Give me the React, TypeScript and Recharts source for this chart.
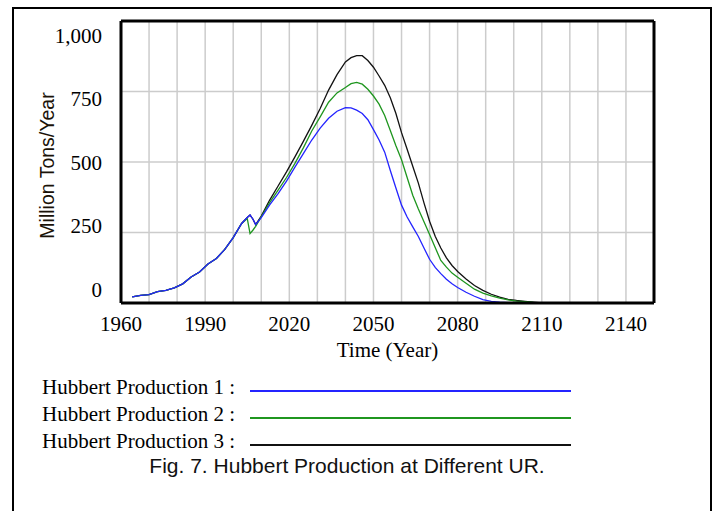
import { LineChart, Line, XAxis, YAxis, CartesianGrid, ReferenceLine } from 'recharts';

const years = [
  1964, 1967, 1970, 1973, 1976, 1979, 1982, 1985, 1988, 1991,
  1994, 1997, 2000, 2003, 2005, 2006, 2007, 2008, 2010, 2013,
  2016, 2019, 2022, 2025, 2028, 2031, 2034, 2037, 2040, 2042,
  2044, 2046, 2048, 2050, 2052, 2054, 2056, 2058, 2060, 2062,
  2064, 2066, 2068, 2070, 2072, 2074, 2076, 2078, 2080, 2083,
  2086, 2089, 2092, 2095, 2098, 2101, 2104, 2107, 2110, 2120,
  2130, 2140, 2150,
];

const hubbert1 = [
  22, 27, 30, 40, 45, 54, 68, 92, 110, 138,
  158, 190, 232, 282, 303, 312, 298, 278, 303, 348,
  388, 432, 482, 530, 578, 620, 655, 680, 693, 692,
  684, 672, 650, 615, 578, 535, 470, 408, 347, 305,
  270, 236, 195, 155, 126, 104, 84, 68, 55, 38,
  24, 12, 6, 3, 1, 0, 0, 0, 0, 0,
  0, 0, 0,
];

const hubbert2 = [
  22, 27, 30, 40, 45, 54, 68, 92, 110, 138,
  158, 190, 232, 282, 300, 246, 258, 272, 306, 356,
  400, 445, 495, 550, 610, 660, 712, 745, 764, 778,
  782, 776, 758, 734, 705, 665, 612, 558, 508, 445,
  382, 333, 288, 243, 197, 151, 127, 106, 91, 70,
  49, 35, 25, 17, 11, 7, 5, 2, 0, 0,
  0, 0, 0,
];

const hubbert3 = [
  22, 27, 30, 40, 45, 54, 68, 92, 110, 138,
  158, 190, 232, 282, 303, 312, 298, 278, 308, 365,
  415, 465, 518, 573, 630, 690, 755, 810, 855, 870,
  877, 877, 860, 836, 805, 772, 728, 672, 604, 545,
  485, 425, 355, 290, 237, 195, 160, 133, 112, 85,
  62, 45, 31, 21, 13, 9, 6, 3, 0, 0,
  0, 0, 0,
];

const gridYears = [
  1960, 1970, 1980, 1990, 2000, 2010, 2020, 2030, 2040, 2050,
  2060, 2070, 2080, 2090, 2100, 2110, 2120, 2130, 2140,
];
const labelYears = [1960, 1990, 2020, 2050, 2080, 2110, 2140];
const yTicks = [0, 250, 500, 750, 1000];

const data = years.map((year, i) => ({
  year,
  hp1: hubbert1[i],
  hp2: hubbert2[i],
  hp3: hubbert3[i],
}));

const series = [
  { key: 'hp1', name: 'Hubbert Production 1', color: '#2424ff' },
  { key: 'hp2', name: 'Hubbert Production 2', color: '#1f961f' },
  { key: 'hp3', name: 'Hubbert Production 3', color: '#111111' },
];

const SERIF = '"Liberation Serif", "Times New Roman", serif';
const SANS = '"Liberation Sans", Arial, sans-serif';
const frameLine = { stroke: '#000', strokeWidth: 3 };

function XTick(props: any) {
  const { x, y, payload } = props;
  if (!labelYears.includes(payload.value)) return <g />;
  return (
    <text x={x} y={y + 20} textAnchor="middle" fontFamily={SERIF} fontSize={21} fill="#000">
      {payload.value}
    </text>
  );
}

function YTick(props: any) {
  const { x, y, payload } = props;
  // labels drift inward toward the middle, like the original plot
  const shift = -6 + 0.0275 * payload.value;
  return (
    <text x={x - 11} y={y + shift} textAnchor="end" fontFamily={SERIF} fontSize={21} fill="#000">
      {payload.value.toLocaleString('en-US')}
    </text>
  );
}

function YLabel(props: any) {
  const vb = props.viewBox || { x: 61, y: 21, width: 60, height: 282 };
  const cx = vb.x - 14.5;
  const cy = vb.y + vb.height / 2 + 3.5;
  return (
    <text
      x={cx}
      y={cy}
      transform={`rotate(-90, ${cx}, ${cy})`}
      textAnchor="middle"
      dominantBaseline="central"
      fontFamily={SANS}
      fontSize={19.5}
      fill="#1a1208"
    >
      Million Tons/Year
    </text>
  );
}

function XLabel(props: any) {
  const vb = props.viewBox || { x: 121, y: 303, width: 533, height: 30 };
  return (
    <text
      x={vb.x + vb.width / 2}
      y={vb.y + vb.height + 24}
      textAnchor="middle"
      fontFamily={SERIF}
      fontSize={21}
      fill="#000"
    >
      Time (Year)
    </text>
  );
}

export default function App() {
  return (
    <div style={{ position: 'absolute', left: 0, top: 0, width: 715, height: 511, overflow: 'hidden', background: '#fff' }}>
      <div
        style={{
          position: 'absolute',
          left: 12,
          top: 7,
          width: 696,
          height: 520,
          border: '2px solid #000',
        }}
      />
      <div style={{ position: 'absolute', left: 0, top: 0 }}>
        <LineChart
          width={715}
          height={380}
          data={data}
          margin={{ top: 21, right: 61, left: 61, bottom: 47 }}
        >
          <CartesianGrid stroke="#cccccc" strokeWidth={1.5} />
          <XAxis
            dataKey="year"
            type="number"
            domain={[1960, 2150]}
            ticks={gridYears}
            height={30}
            axisLine={frameLine}
            tickLine={false}
            tick={<XTick />}
            interval={0}
            label={{ content: XLabel } as any}
          />
          <YAxis
            type="number"
            domain={[0, 1000]}
            ticks={yTicks}
            width={60}
            axisLine={frameLine}
            tickLine={false}
            tick={<YTick />}
            interval={0}
            label={{ content: YLabel } as any}
          />
          <ReferenceLine y={1000} stroke="#000" strokeWidth={3} />
          <ReferenceLine x={2150} stroke="#000" strokeWidth={3} />
          {[...series].reverse().map((s) => (
            <Line
              key={s.key}
              dataKey={s.key}
              name={s.name}
              type="linear"
              stroke={s.color}
              strokeWidth={1.3}
              dot={false}
              isAnimationActive={false}
            />
          ))}
        </LineChart>
      </div>
      <div style={{ position: 'absolute', left: 42, top: 373.5 }}>
        {series.map((s) => (
          <div key={s.key} style={{ position: 'relative', height: 27, lineHeight: '27px', fontFamily: SERIF, fontSize: 21, color: '#000', whiteSpace: 'nowrap' }}>
            {s.name} :
            <div style={{ position: 'absolute', left: 208, top: 16, width: 321, height: 2, background: s.color }} />
          </div>
        ))}
      </div>
      <div
        style={{
          position: 'absolute',
          left: 0,
          width: 694,
          top: 453,
          textAlign: 'center',
          fontFamily: SANS,
          fontSize: 21,
          lineHeight: '26px',
          color: '#111',
        }}
      >
        Fig. 7. Hubbert Production at Different UR.
      </div>
    </div>
  );
}
